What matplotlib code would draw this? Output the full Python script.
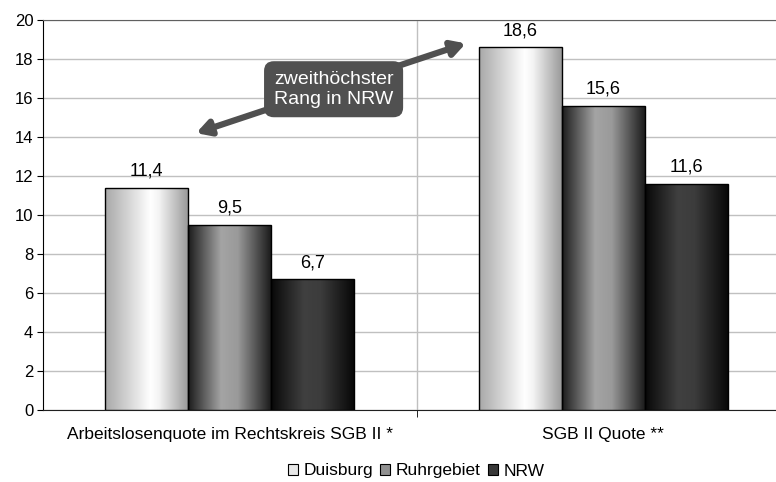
# Arbeitslosenquote / SGB II Quote - Duisburg, Ruhrgebiet, NRW

import numpy as np
import matplotlib.pyplot as plt
from matplotlib.colors import LinearSegmentedColormap
from matplotlib.patches import Patch

plt.rcParams['font.family'] = ['Liberation Sans', 'DejaVu Sans']

categories = ['Arbeitslosenquote im Rechtskreis SGB II *', 'SGB II Quote **']
regions = ['Duisburg', 'Ruhrgebiet', 'NRW']
duisburg = [11.4, 18.6]
ruhrgebiet = [9.5, 15.6]
nrw = [6.7, 11.6]
yticks = [0, 2, 4, 6, 8, 10, 12, 14, 16, 18, 20]

# Farbverläufe (zylinderartig)
cmaps = [
    LinearSegmentedColormap.from_list('d', [(0, '#a8a8a8'), (0.55, '#ffffff'), (0.65, '#f4f4f4'), (1, '#9a9a9a')]),
    LinearSegmentedColormap.from_list('r', [(0, '#1c1c1c'), (0.4, '#a4a4a4'), (0.6, '#9a9a9a'), (1, '#1c1c1c')]),
    LinearSegmentedColormap.from_list('n', [(0, '#080808'), (0.4, '#404040'), (0.6, '#3c3c3c'), (1, '#080808')]),
]
legend_colors = ['#e8e8e8', '#909090', '#383838']

fig = plt.figure(figsize=(7.76, 4.82), dpi=100)
ax = fig.add_axes([43 / 776, 1 - 410 / 482, (790 - 43) / 776, 390 / 482])

x = np.arange(len(categories))
w = 0.222
grad = np.linspace(0, 1, 256).reshape(1, -1)

for i, vals in enumerate([duisburg, ruhrgebiet, nrw]):
    bars = ax.bar(x + (i - 1) * w, vals, w, facecolor='none', edgecolor='black', linewidth=1, zorder=4)
    for b, v in zip(bars, vals):
        im = ax.imshow(grad, extent=[b.get_x(), b.get_x() + b.get_width(), 0, b.get_height()],
                       cmap=cmaps[i], aspect='auto', zorder=3)
        im.set_clip_path(b)
        ax.text(b.get_x() + b.get_width() / 2, v + 0.4, str(v).replace('.', ','),
                ha='center', va='bottom', fontsize=13)

ax.set_xlim(-0.5, 1.5)
ax.set_ylim(0, 20)
ax.set_yticks(yticks)
ax.tick_params(axis='y', labelsize=12, length=4, direction='out', pad=3)
ax.set_xticks(x)
ax.set_xticklabels(categories, fontsize=12.5)
ax.tick_params(axis='x', which='major', length=0, pad=12)
ax.set_xticks([0.5], minor=True)
ax.tick_params(axis='x', which='minor', length=5)
ax.grid(axis='y', color='#c0c0c0', linewidth=1, zorder=0)
ax.axvline(0.5, color='#c0c0c0', linewidth=1, zorder=0)
ax.set_axisbelow(True)
ax.spines['top'].set_color('#606060')
ax.spines['right'].set_visible(False)
ax.spines['left'].set_color('black')
ax.spines['bottom'].set_color('#202020')

# Doppelpfeil mit Beschriftung
ax.annotate('', xy=(-0.09, 14.2), xytext=(0.632, 18.8),
            arrowprops=dict(arrowstyle='<|-|>,head_length=0.8,head_width=0.45',
                            color='#505050', lw=4.5, shrinkA=0, shrinkB=0), zorder=5)
ax.text(0.278, 16.45, 'zweithöchster\nRang in NRW', ha='center', va='center', fontsize=14,
        color='white', linespacing=1.2, zorder=6,
        bbox=dict(boxstyle='round,pad=0.5,rounding_size=0.5', fc='#505050', ec='none'))

handles = [Patch(facecolor=c, edgecolor='black', linewidth=0.8) for c in legend_colors]
fig.legend(handles, regions, loc='center', bbox_to_anchor=(416 / 776, 1 - 471 / 482), ncol=3,
           frameon=False, fontsize=12.5, handlelength=0.6, handleheight=0.6, handletextpad=0.3,
           columnspacing=0.4)

fig.savefig('out.png', dpi=100)
